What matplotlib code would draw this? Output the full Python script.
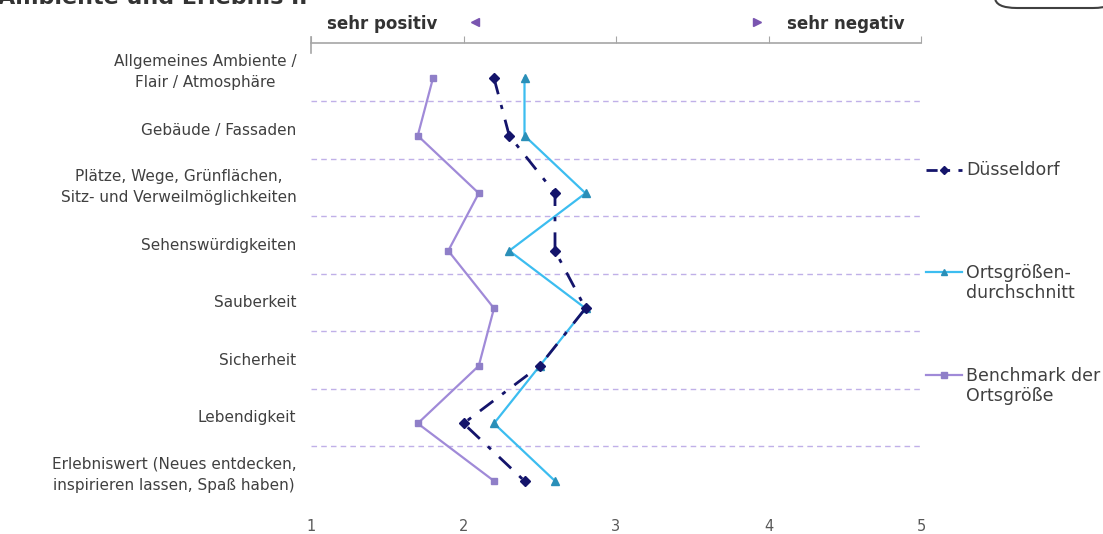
import matplotlib
matplotlib.use("Agg")
import matplotlib.pyplot as plt
import matplotlib.transforms as mtransforms
from matplotlib.lines import Line2D
from matplotlib.patches import FancyBboxPatch

categories = [
    "Allgemeines Ambiente /\nFlair / Atmosphäre",
    "Gebäude / Fassaden",
    "Plätze, Wege, Grünflächen,\nSitz- und Verweilmöglichkeiten",
    "Sehenswürdigkeiten",
    "Sauberkeit",
    "Sicherheit",
    "Lebendigkeit",
    "Erlebniswert (Neues entdecken,\ninspirieren lassen, Spaß haben)",
]
duesseldorf = [2.2, 2.3, 2.6, 2.6, 2.8, 2.5, 2.0, 2.4]
ortsgroesse = [2.4, 2.4, 2.8, 2.3, 2.8, 2.5, 2.2, 2.6]
benchmark = [1.8, 1.7, 2.1, 1.9, 2.2, 2.1, 1.7, 2.2]
x_ticks = [1, 2, 3, 4, 5]

C_DUS = "#14146b"
C_ORT = "#3cbdf0"
C_ORT_M = "#2a8fb8"
C_BEN = "#a08ad8"
C_BEN_M = "#8f7fc8"
C_GRID = "#c0b0e8"
C_TXT = "#404040"

W, H = 1103, 534
fig = plt.figure(figsize=(W / 100, H / 100), dpi=100)
ax = fig.add_axes([311 / W, 1 - 504 / H, (921 - 311) / W, (504 - 43) / H])

y = list(range(len(categories)))

ax.plot(ortsgroesse, y, color=C_ORT, lw=1.6, marker="^", ms=6,
        mfc=C_ORT_M, mec=C_ORT_M, zorder=3)
ax.plot(benchmark, y, color=C_BEN, lw=1.6, marker="s", ms=5,
        mfc=C_BEN_M, mec=C_BEN_M, zorder=3)
ax.plot(duesseldorf, y, color=C_DUS, lw=2.0, ls=(0, (6, 4, 1.5, 4)),
        marker="D", ms=5.5, mfc=C_DUS, mec=C_DUS, zorder=4)

# dashed separators between categories
for i in range(len(categories) - 1):
    ax.axhline(i + 0.4, color=C_GRID, lw=1.0, ls=(0, (4, 3)), zorder=1)

ax.set_xlim(1, 5)
ax.set_ylim(7.4, -0.61)

for s in ["left", "right", "bottom"]:
    ax.spines[s].set_visible(False)
ax.spines["top"].set_color("#a6a6a6")
ax.spines["top"].set_linewidth(1.2)

ax.set_xticks(x_ticks)
ax.set_xticklabels([str(t) for t in x_ticks])
ax.tick_params(axis="x", which="both", bottom=False, top=True,
               labelbottom=True, labeltop=False, direction="out",
               length=5, color="#a6a6a6", labelsize=10.5,
               labelcolor="#595959", pad=6)

ax.set_yticks(y)
ax.set_yticklabels(categories, fontsize=11, color=C_TXT,
                   ha="right", multialignment="center", linespacing=1.55)
ax.tick_params(axis="y", left=False, pad=7)
for lab in ax.get_yticklabels():
    shift = 11 if "\n" in lab.get_text() else 7
    off = mtransforms.ScaledTranslation(0, shift / 100, fig.dpi_scale_trans)
    lab.set_transform(lab.get_transform() + off)

# left stub on the value axis
ax.plot([0, 0], [1.012, 0.979], transform=ax.transAxes, color="#a6a6a6",
        lw=1.2, clip_on=False)

# direction hints above the axis
fig.text(327 / W, 1 - 24 / H, "sehr positiv", fontsize=12, fontweight="bold",
         color="#333333", ha="left", va="center")
fig.text(905 / W, 1 - 24 / H, "sehr negativ", fontsize=12, fontweight="bold",
         color="#333333", ha="right", va="center")
fig.add_artist(Line2D([475 / W], [1 - 22 / H], marker="<", ms=6,
                      color="#7a55b0", ls="none"))
fig.add_artist(Line2D([757 / W], [1 - 22 / H], marker=">", ms=6,
                      color="#7a55b0", ls="none"))

# heading running off the top edge
fig.text(-2 / W, 1 - 4 / H, "Ambiente und Erlebnis II", fontsize=16,
         fontweight="bold", color="#333333", ha="left", va="baseline")
fig.add_artist(FancyBboxPatch((995 / W, 1 - 8 / H), 120 / W, 30 / H,
                              boxstyle="round,pad=0,rounding_size=0.02",
                              transform=fig.transFigure, fc="white",
                              ec="#404040", lw=1.5, clip_on=False))

# legend
legend_items = [
    ("Düsseldorf", 170, dict(color=C_DUS, lw=2.0, ls=(0, (4, 3, 1.5, 3)),
                             marker="D", ms=4.5, mfc=C_DUS, mec=C_DUS)),
    ("Ortsgrößen-\ndurchschnitt", 283, dict(color=C_ORT, lw=1.6, marker="^",
                                            ms=4.5, mfc=C_ORT_M, mec=C_ORT_M)),
    ("Benchmark der\nOrtsgröße", 386, dict(color=C_BEN, lw=1.6, marker="s",
                                          ms=4, mfc=C_BEN_M, mec=C_BEN_M)),
]
for label, py, style in legend_items:
    yy = 1 - (py if "\n" not in label else py - 11) / H
    fig.add_artist(Line2D([926 / W, 962 / W], [yy, yy], markevery=[],
                          **style))
    fig.add_artist(Line2D([944 / W], [yy], ls="none", marker=style["marker"],
                          ms=style["ms"], mfc=style["mfc"], mec=style["mec"]))
    fig.text(966 / W, 1 - py / H, label, fontsize=12.5, color=C_TXT,
             ha="left", va="center", linespacing=1.1)

fig.savefig("out.png", dpi=100)
